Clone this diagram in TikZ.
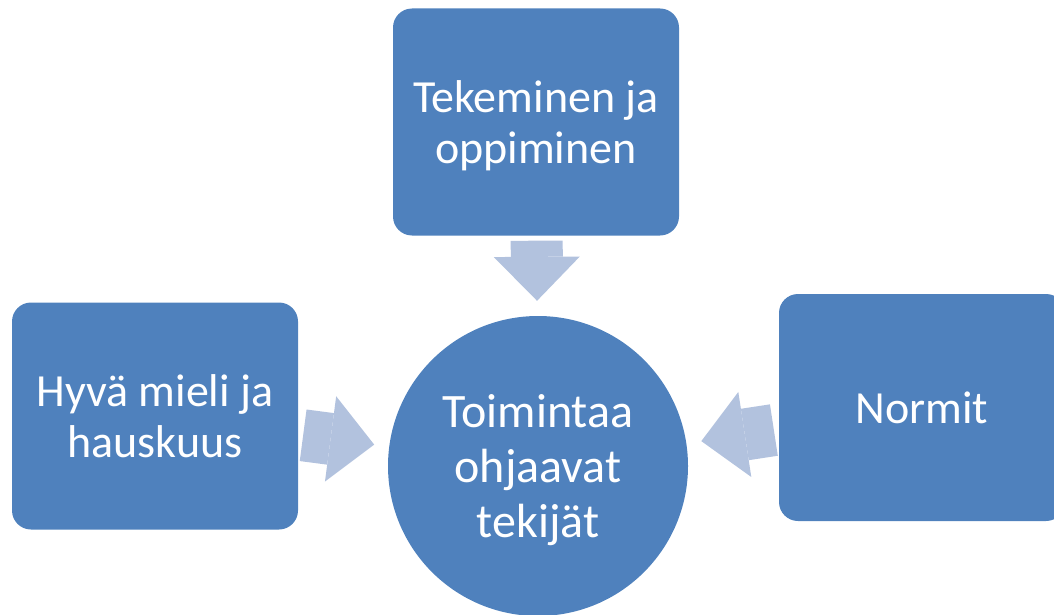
\documentclass[tikz,border=0pt]{standalone}
\usepackage{fontspec}
\setmainfont{Carlito}
\usepackage{tikz}
\usetikzlibrary{arrows.meta,positioning,calc}

\definecolor{boxblue}{HTML}{4F81BD}
\definecolor{arrowblue}{HTML}{B2C2DE}

\tikzset{
  factorbox/.style={rectangle, rounded corners=19pt, fill=boxblue, text=white,
    minimum width=286pt, minimum height=227pt, inner sep=0pt, align=center,
    text depth=0pt, font=\fontsize{46}{51}\selectfont},
  hubcircle/.style={circle, fill=boxblue, text=white, minimum size=300pt,
    inner sep=0pt, align=center, text depth=0pt,
    font=\fontsize{48}{55}\selectfont},
  blockarrow/.style={draw=arrowblue, line width=52pt,
    -{Triangle[width=86pt,length=44pt,line width=0pt]},
    shorten <=5pt, shorten >=15pt}
}

\begin{document}
\begin{tikzpicture}[x=1pt, y=-1pt]
    \useasboundingbox (0,0) rectangle (1054,615);
    \clip (0,0) rectangle (1054,615);

    % Factors and hub
    \node[hubcircle] (hub) at (538,466) {Toimintaa\\ohjaavat\\tekijät};
    \node[factorbox] (doing) at (536,122) {Tekeminen ja\\oppiminen};
    \node[factorbox] (mood) at (155,416) {Hyvä mieli ja\\hauskuus};
    \node[factorbox] (norms) at (922,407.5) {Normit};

    % Arrows into the hub
    \draw[blockarrow] (doing) -- (hub);
    \draw[blockarrow] (mood) -- (hub);
    \draw[blockarrow] (norms) -- (hub);
\end{tikzpicture}
\end{document}
